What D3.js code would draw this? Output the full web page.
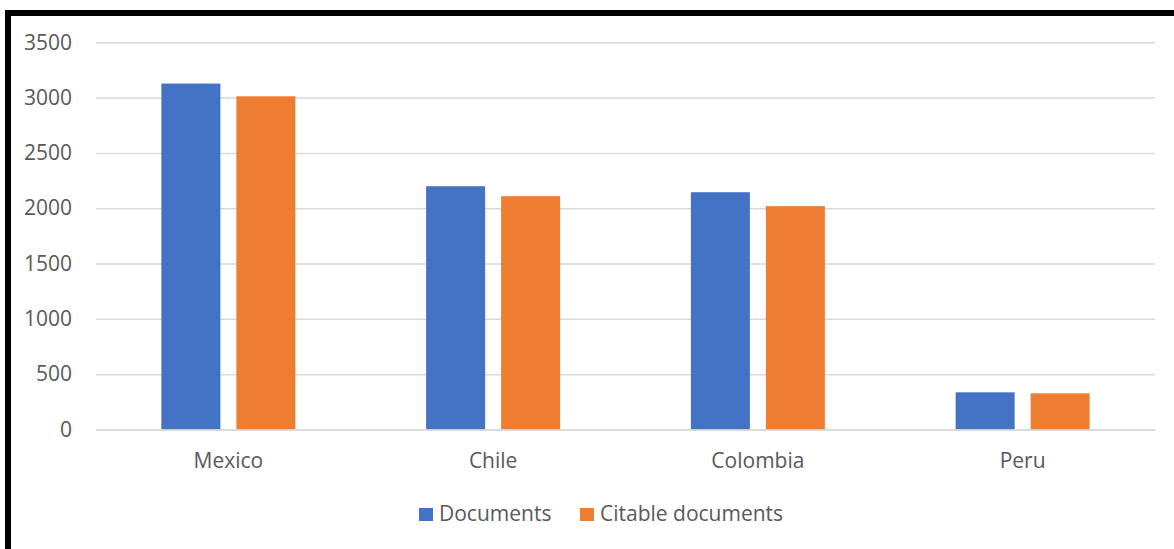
<!DOCTYPE html>
<html><head><meta charset="utf-8">
<script src="https://cdn.jsdelivr.net/npm/d3@7"></script>
<style>html,body{margin:0;padding:0;background:#fff;}svg{display:block;}</style>
</head><body>
<svg id="c" width="1174" height="549"></svg>
<script>
const categories = ["Mexico", "Chile", "Colombia", "Peru"];
const seriesNames = ["Documents", "Citable documents"];
const documents = [3127, 2199, 2145, 336];
const citableDocuments = [3012, 2109, 2019, 327];
const yTicks = [0, 500, 1000, 1500, 2000, 2500, 3000, 3500];
const colors = ["#4472C4", "#ED7D31"];

(function () {
const svg = d3.select("#c");
const font = "'Open Sans', 'Noto Sans', sans-serif";
const textColor = "#595959";
const fs = 21;

// frame
svg.append("rect").attr("x", 0).attr("y", 0).attr("width", 1174).attr("height", 549).attr("fill", "#fff");
svg.append("line").attr("x1", 5).attr("x2", 1174).attr("y1", 13).attr("y2", 13).attr("stroke", "#000").attr("stroke-width", 6);
svg.append("line").attr("x1", 8).attr("x2", 8).attr("y1", 10).attr("y2", 549).attr("stroke", "#000").attr("stroke-width", 6);

const pl = 96, pr = 1155, pt = 42.3, pb = 429.5;
const x = d3.scaleBand().domain(categories).range([pl, pr]).paddingInner(0).paddingOuter(0);
const y = d3.scaleLinear().domain([0, 3500]).range([pb, pt]);

// gridlines
const gAxis = svg.append("g").attr("transform", `translate(${pl},0)`)
  .call(d3.axisLeft(y).tickValues(yTicks).tickSize(-(pr - pl)).tickPadding(24).tickFormat(d3.format("d")));
gAxis.select(".domain").remove();
gAxis.selectAll(".tick line").attr("stroke", "#d9d9d9").attr("stroke-width", 1.5);
gAxis.selectAll(".tick text").attr("fill", textColor).attr("font-family", font).attr("font-size", fs);

// bars
const data = categories.map((c, i) => ({ cat: c, vals: [documents[i], citableDocuments[i]] }));
const bw = 59, gap = 16;
const groups = svg.append("g").selectAll("g").data(data).join("g")
  .attr("transform", d => `translate(${x(d.cat) + x.bandwidth() / 2},0)`);
groups.selectAll("rect").data(d => d.vals.map((v, j) => ({ v, j }))).join("rect")
  .attr("x", d => d.j === 0 ? -(bw + gap / 2) : gap / 2)
  .attr("width", bw)
  .attr("y", d => y(d.v))
  .attr("height", d => y(0) - y(d.v))
  .attr("fill", d => colors[d.j]);

// x axis labels
const xa = svg.append("g").attr("transform", `translate(0,${pb})`)
  .call(d3.axisBottom(x).tickSize(0).tickPadding(23.5));
xa.select(".domain").attr("stroke", "#d9d9d9").attr("stroke-width", 1.5);
xa.selectAll(".tick text").attr("fill", textColor).attr("font-family", font).attr("font-size", fs);

// legend
const legendItems = [{ name: seriesNames[0], x: 419, c: colors[0] }, { name: seriesNames[1], x: 580, c: colors[1] }];
const lg = svg.append("g");
legendItems.forEach(it => {
  lg.append("rect").attr("x", it.x).attr("y", 508).attr("width", 14).attr("height", 13).attr("fill", it.c);
  lg.append("text").attr("x", it.x + 20).attr("y", 521).attr("fill", textColor)
    .attr("font-family", font).attr("font-size", fs).text(it.name);
});
})();
</script>
</body></html>
